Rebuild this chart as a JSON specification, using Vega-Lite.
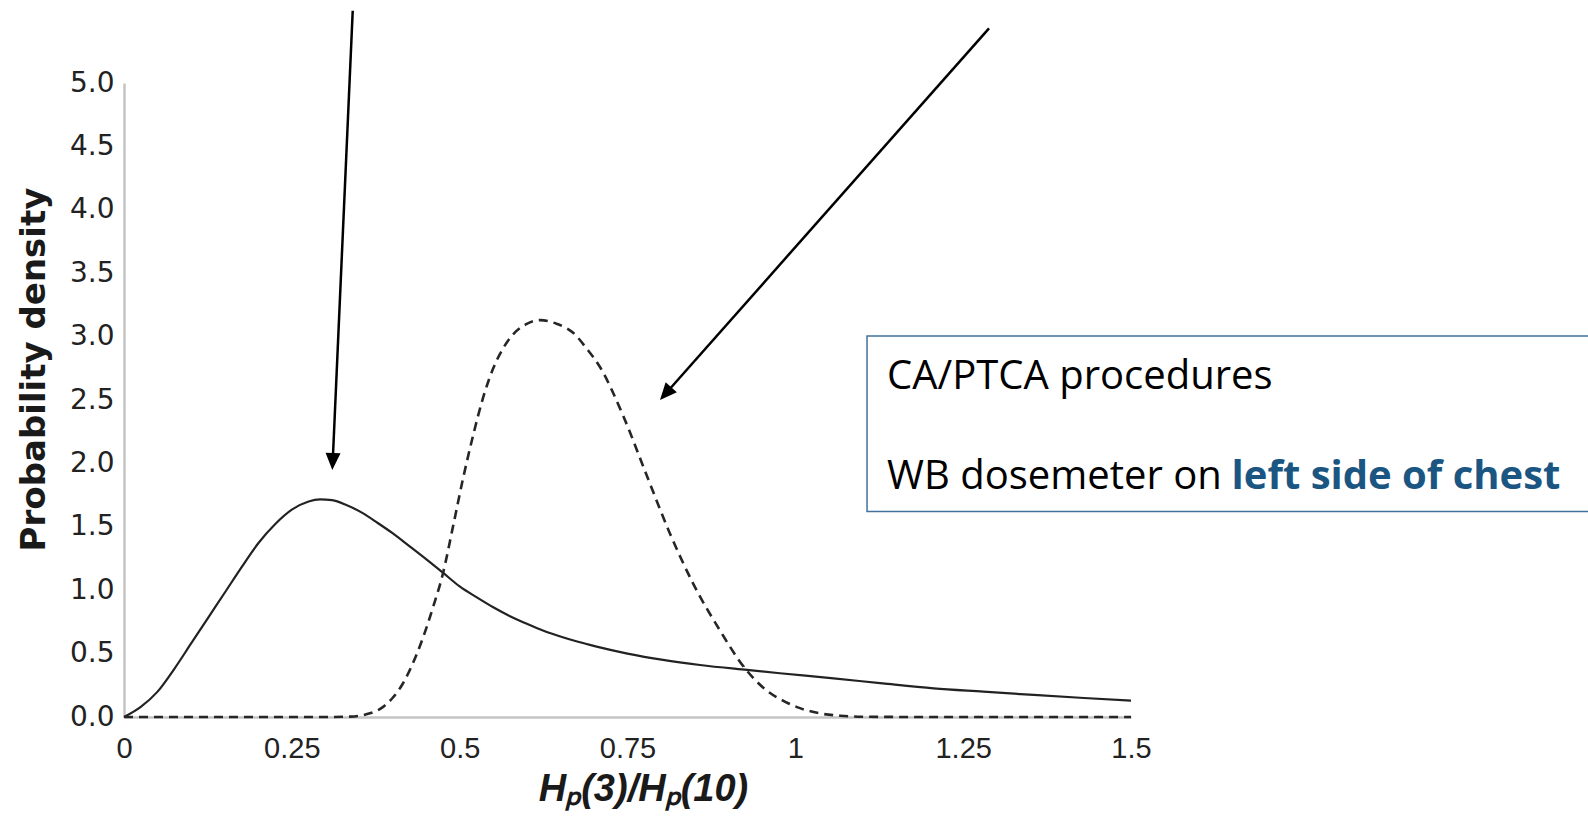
{
  "$schema": "https://vega.github.io/schema/vega-lite/v6.json",
  "width": 1007,
  "height": 634,
  "autosize": {"type": "none"},
  "padding": {"left": 124, "top": 83, "right": 457, "bottom": 103},
  "background": "white",
  "config": {
    "view": {"stroke": null},
    "axis": {
      "domainColor": "#c4c4c4",
      "domainWidth": 2.5,
      "ticks": false,
      "tickSize": 0,
      "grid": false,
      "labelColor": "#222222",
      "titleColor": "#1a1a1a",
      "labelOverlap": false,
      "labelFlush": false,
      "labelBound": false
    }
  },
  "datasets": {
    "curves": [
      {"s": "solid", "x": 0, "y": 0},
      {"s": "solid", "x": 0.025, "y": 0.08},
      {"s": "solid", "x": 0.05, "y": 0.2},
      {"s": "solid", "x": 0.075, "y": 0.38},
      {"s": "solid", "x": 0.1, "y": 0.58},
      {"s": "solid", "x": 0.125, "y": 0.78},
      {"s": "solid", "x": 0.15, "y": 0.98},
      {"s": "solid", "x": 0.175, "y": 1.18},
      {"s": "solid", "x": 0.2, "y": 1.37},
      {"s": "solid", "x": 0.225, "y": 1.52},
      {"s": "solid", "x": 0.25, "y": 1.635},
      {"s": "solid", "x": 0.275, "y": 1.7},
      {"s": "solid", "x": 0.292, "y": 1.716},
      {"s": "solid", "x": 0.31, "y": 1.71},
      {"s": "solid", "x": 0.332, "y": 1.67},
      {"s": "solid", "x": 0.355, "y": 1.61},
      {"s": "solid", "x": 0.378, "y": 1.53},
      {"s": "solid", "x": 0.4, "y": 1.45},
      {"s": "solid", "x": 0.426, "y": 1.344},
      {"s": "solid", "x": 0.45, "y": 1.245},
      {"s": "solid", "x": 0.476, "y": 1.134},
      {"s": "solid", "x": 0.5, "y": 1.03},
      {"s": "solid", "x": 0.525, "y": 0.945},
      {"s": "solid", "x": 0.55, "y": 0.865},
      {"s": "solid", "x": 0.575, "y": 0.795},
      {"s": "solid", "x": 0.6, "y": 0.735},
      {"s": "solid", "x": 0.625, "y": 0.68},
      {"s": "solid", "x": 0.65, "y": 0.635},
      {"s": "solid", "x": 0.675, "y": 0.595},
      {"s": "solid", "x": 0.704, "y": 0.555},
      {"s": "solid", "x": 0.75, "y": 0.5},
      {"s": "solid", "x": 0.803, "y": 0.45},
      {"s": "solid", "x": 0.858, "y": 0.41},
      {"s": "solid", "x": 0.928, "y": 0.371},
      {"s": "solid", "x": 0.977, "y": 0.345},
      {"s": "solid", "x": 1.057, "y": 0.305},
      {"s": "solid", "x": 1.13, "y": 0.265},
      {"s": "solid", "x": 1.206, "y": 0.226},
      {"s": "solid", "x": 1.28, "y": 0.2},
      {"s": "solid", "x": 1.355, "y": 0.174},
      {"s": "solid", "x": 1.43, "y": 0.15},
      {"s": "solid", "x": 1.5, "y": 0.129},
      {"s": "dashed", "x": 0, "y": 0},
      {"s": "dashed", "x": 0.1, "y": 0},
      {"s": "dashed", "x": 0.2, "y": 0},
      {"s": "dashed", "x": 0.3, "y": 0},
      {"s": "dashed", "x": 0.337, "y": 0.003},
      {"s": "dashed", "x": 0.36, "y": 0.02},
      {"s": "dashed", "x": 0.386, "y": 0.08},
      {"s": "dashed", "x": 0.4, "y": 0.15},
      {"s": "dashed", "x": 0.415, "y": 0.26},
      {"s": "dashed", "x": 0.43, "y": 0.42},
      {"s": "dashed", "x": 0.445, "y": 0.62},
      {"s": "dashed", "x": 0.46, "y": 0.86},
      {"s": "dashed", "x": 0.475, "y": 1.13},
      {"s": "dashed", "x": 0.49, "y": 1.5},
      {"s": "dashed", "x": 0.505, "y": 1.88},
      {"s": "dashed", "x": 0.52, "y": 2.22},
      {"s": "dashed", "x": 0.535, "y": 2.52},
      {"s": "dashed", "x": 0.55, "y": 2.75},
      {"s": "dashed", "x": 0.565, "y": 2.91},
      {"s": "dashed", "x": 0.58, "y": 3.02},
      {"s": "dashed", "x": 0.6, "y": 3.1},
      {"s": "dashed", "x": 0.62, "y": 3.13},
      {"s": "dashed", "x": 0.645, "y": 3.1},
      {"s": "dashed", "x": 0.669, "y": 3.03},
      {"s": "dashed", "x": 0.69, "y": 2.9},
      {"s": "dashed", "x": 0.709, "y": 2.76},
      {"s": "dashed", "x": 0.744, "y": 2.37},
      {"s": "dashed", "x": 0.779, "y": 1.9},
      {"s": "dashed", "x": 0.813, "y": 1.45},
      {"s": "dashed", "x": 0.848, "y": 1.05},
      {"s": "dashed", "x": 0.888, "y": 0.68},
      {"s": "dashed", "x": 0.923, "y": 0.397},
      {"s": "dashed", "x": 0.957, "y": 0.21},
      {"s": "dashed", "x": 0.985, "y": 0.12},
      {"s": "dashed", "x": 1.007, "y": 0.07},
      {"s": "dashed", "x": 1.035, "y": 0.03},
      {"s": "dashed", "x": 1.067, "y": 0.01},
      {"s": "dashed", "x": 1.1, "y": 0.002},
      {"s": "dashed", "x": 1.2, "y": 0},
      {"s": "dashed", "x": 1.35, "y": 0},
      {"s": "dashed", "x": 1.5, "y": 0}
    ],
    "arrows": [
      {"id": "a1", "x": 0.3407, "y": 5.57, "x2": 0.311, "y2": 2.027},
      {"id": "a2", "x": 1.2885, "y": 5.431, "x2": 0.8083, "y2": 2.559}
    ],
    "tips": [
      {"id": "a1", "x": 0.3103, "y": 1.948},
      {"id": "a2", "x": 0.7984, "y": 2.5}
    ],
    "box": [
      {"x": 1.1068, "x2": 2.187, "y": 3.005, "y2": 1.621}
    ],
    "notes": [
      {"part": "line1", "x": 1.1366, "y": 2.587, "t": "CA/PTCA procedures"},
      {"part": "line2a", "x": 1.1366, "y": 1.798, "t": "WB dosemeter on"},
      {"part": "line2b", "x": 1.6498, "y": 1.798, "t": "left side of chest"}
    ]
  },
  "layer": [
    {
      "data": {"name": "curves"},
      "transform": [{"filter": "datum.s === 'solid'"}],
      "mark": {"type": "line", "interpolate": "monotone", "color": "#222222", "strokeWidth": 2.2},
      "encoding": {
        "x": {
          "field": "x", "type": "quantitative",
          "scale": {"domain": [0, 1.5], "nice": false, "zero": false},
          "axis": {
            "values": [0, 0.25, 0.5, 0.75, 1, 1.25, 1.5],
            "format": "~g",
            "labelFont": "Liberation Sans Narrow, Liberation Sans",
            "labelFontSize": 29,
            "labelPadding": 17,
            "title": "Hₚ(3)/Hₚ(10)",
            "titleFont": "Liberation Sans Narrow, Liberation Sans",
            "titleFontSize": 38,
            "titleFontWeight": "bold",
            "titleFontStyle": "italic",
            "titlePadding": 7,
            "titleX": 519
          }
        },
        "y": {
          "field": "y", "type": "quantitative",
          "scale": {"domain": [0, 5], "nice": false},
          "axis": {
            "values": [0, 0.5, 1, 1.5, 2, 2.5, 3, 3.5, 4, 4.5, 5],
            "format": ".1f",
            "labelFont": "DejaVu Sans",
            "labelFontSize": 28,
            "labelPadding": 10,
            "title": "Probability density",
            "titleFont": "DejaVu Sans",
            "titleFontSize": 34,
            "titleFontWeight": "bold",
            "titlePadding": 18,
            "titleY": 286
          }
        }
      }
    },
    {
      "data": {"name": "curves"},
      "transform": [{"filter": "datum.s === 'dashed'"}],
      "mark": {"type": "line", "interpolate": "monotone", "color": "#262626", "strokeWidth": 2.6, "strokeDash": [9, 6]},
      "encoding": {
        "x": {"field": "x", "type": "quantitative", "scale": {"domain": [0, 1.5], "nice": false, "zero": false}},
        "y": {"field": "y", "type": "quantitative", "scale": {"domain": [0, 5], "nice": false}}
      }
    },
    {
      "data": {"name": "arrows"},
      "mark": {"type": "rule", "color": "black", "strokeWidth": 2.5},
      "encoding": {
        "x": {"field": "x", "type": "quantitative"},
        "y": {"field": "y", "type": "quantitative"},
        "x2": {"field": "x2"},
        "y2": {"field": "y2"}
      }
    },
    {
      "data": {"name": "tips"},
      "transform": [{"filter": "datum.id === 'a1'"}],
      "mark": {"type": "point", "shape": "M0,0L-0.44,-1L0.44,-1Z", "filled": true, "size": 1156, "angle": 2.5, "color": "black", "opacity": 1, "strokeWidth": 0},
      "encoding": {
        "x": {"field": "x", "type": "quantitative"},
        "y": {"field": "y", "type": "quantitative"}
      }
    },
    {
      "data": {"name": "tips"},
      "transform": [{"filter": "datum.id === 'a2'"}],
      "mark": {"type": "point", "shape": "M0,0L-0.44,-1L0.44,-1Z", "filled": true, "size": 1156, "angle": 41.5, "color": "black", "opacity": 1, "strokeWidth": 0},
      "encoding": {
        "x": {"field": "x", "type": "quantitative"},
        "y": {"field": "y", "type": "quantitative"}
      }
    },
    {
      "data": {"name": "box"},
      "mark": {"type": "rect", "fill": "white", "fillOpacity": 0, "stroke": "#41719C", "strokeWidth": 1.5},
      "encoding": {
        "x": {"field": "x", "type": "quantitative"},
        "x2": {"field": "x2"},
        "y": {"field": "y", "type": "quantitative"},
        "y2": {"field": "y2"}
      }
    },
    {
      "data": {"name": "notes"},
      "transform": [{"filter": "datum.part !== 'line2b'"}],
      "mark": {"type": "text", "align": "left", "baseline": "alphabetic", "font": "Open Sans", "fontSize": 40, "color": "#000000"},
      "encoding": {
        "x": {"field": "x", "type": "quantitative"},
        "y": {"field": "y", "type": "quantitative"},
        "text": {"field": "t"}
      }
    },
    {
      "data": {"name": "notes"},
      "transform": [{"filter": "datum.part === 'line2b'"}],
      "mark": {"type": "text", "align": "left", "baseline": "alphabetic", "font": "Open Sans", "fontSize": 40, "fontWeight": "bold", "color": "#1B5682"},
      "encoding": {
        "x": {"field": "x", "type": "quantitative"},
        "y": {"field": "y", "type": "quantitative"},
        "text": {"field": "t"}
      }
    }
  ]
}
